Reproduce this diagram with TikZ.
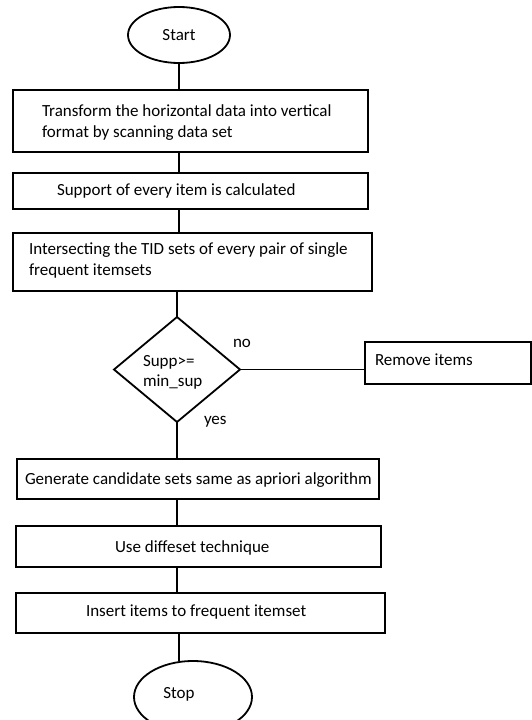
\documentclass[tikz,border=0pt]{standalone}
\usepackage{fontspec}
\setmainfont{Carlito}
\usetikzlibrary{shapes.geometric}
\begin{document}
\begin{tikzpicture}[x=1pt,y=-1pt,
  every node/.style={inner sep=0pt, outer sep=0pt},
  box/.style={draw, line width=1.8pt, rectangle},
  oval/.style={draw, line width=1.8pt, ellipse, font=\fontsize{17}{20}\selectfont},
  decision/.style={draw, line width=1.8pt, diamond, minimum width=126, minimum height=105},
  lbl/.style={anchor=west, align=left, font=\fontsize{17}{21}\selectfont},
  conn/.style={line width=1.8pt}]
\useasboundingbox (0,0) rectangle (532,720);
\clip (0,0) rectangle (532,720);
% shapes
\node[oval, minimum width=102, minimum height=56] (start) at (179,35) {Start};
\node[box, minimum width=355, minimum height=62] (b1) at (190.5,121) {};
\node[box, minimum width=355, minimum height=36] (b2) at (190.5,191) {};
\node[box, minimum width=359, minimum height=58] (b3) at (192.5,262) {};
\node[decision] (dia) at (177,369.5) {};
\node[box, minimum width=166, minimum height=42] (rm) at (448,363) {};
\node[box, minimum width=362, minimum height=40] (b4) at (198,479) {};
\node[box, minimum width=365, minimum height=41] (b5) at (198.5,546.5) {};
\node[box, minimum width=369, minimum height=40] (b6) at (200.5,613) {};
\node[oval, minimum width=118, minimum height=72] (stop) at (193,697) {};
\node[font=\fontsize{17}{20}\selectfont] (stopt) at (179,694) {Stop};
% texts
\node[lbl] (t1) at (42,122.5) {Transform the horizontal data into vertical\\format by scanning data set};
\node[lbl] (t2) at (57,191) {Support of every item is calculated};
\node[lbl] (t3) at (29,260) {Intersecting the TID sets of every pair of single\\frequent itemsets};
\node[lbl, font=\fontsize{17}{20}\selectfont] (td) at (143,372) {Supp>=\\min\_sup};
\node[lbl] (trm) at (375,360) {Remove items};
\node[lbl] (tno) at (233,343) {no};
\node[lbl] (tyes) at (204,422) {yes};
\node[lbl] (t4) at (25,480) {Generate candidate sets same as apriori algorithm};
\node[lbl] (t5) at (115,548) {Use diffeset technique};
\node[lbl] (t6) at (86,612) {Insert items to frequent itemset};
% connectors
\draw[conn] (start) -- (start |- b1.north);
\draw[conn] (b1.south -| start) -- (b2.north -| start);
\draw[conn] (b2.south -| start) -- (b3.north -| start);
\draw[conn] (b3.south -| dia) -- (dia.north);
\draw[conn] (dia.east) -- (dia.east -| rm.west);
\draw[conn] (dia.south) -- (dia.south |- b4.north);
\draw[conn] (b4.south -| dia) -- (b5.north -| dia);
\draw[conn] (b5.south -| dia) -- (b6.north -| dia);
\draw[conn] (b6.south -| start) -- (stop.north -| start);
\end{tikzpicture}
\end{document}
